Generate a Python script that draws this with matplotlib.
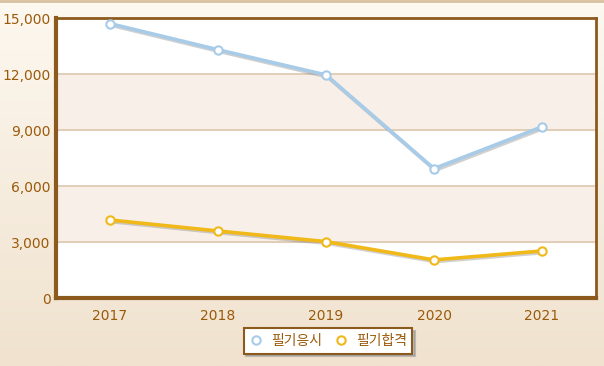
import numpy as np
import matplotlib.pyplot as plt
import matplotlib.patheffects as pe
from matplotlib.lines import Line2D

years = ['2017', '2018', '2019', '2020', '2021']
applicants = [14700, 13300, 11950, 6930, 9170]
passed = [4180, 3590, 3020, 2040, 2520]
labels = ['필기응시', '필기합격']
colors = ['#a8cbe8', '#f0b818']

plt.rcParams['font.family'] = ['DejaVu Sans', 'Noto Sans CJK KR']
txt = '#9a5a0a'

fig = plt.figure(figsize=(6.04, 3.66), dpi=100)

# gradient background
bg = fig.add_axes([0, 0, 1, 1], zorder=-10)
grad = np.linspace(0, 1, 256).reshape(-1, 1)
top = np.array([253, 248, 240]) / 255
bot = np.array([240, 226, 206]) / 255
img = top + (bot - top) * grad[:, :, None]
bg.imshow(img, aspect='auto', extent=[0, 1, 0, 1])
bg.axhline(0.997, color='#d8c0a0', lw=2)
bg.axis('off')

ax = fig.add_axes([56/604, 68/366, 540/604, 280/366])
ax.set_facecolor('white')
ticks = [0, 3000, 6000, 9000, 12000, 15000]
for i in range(len(ticks) - 1):
    if i % 2 == 1:
        ax.axhspan(ticks[i], ticks[i+1], color='#f8f0e8', zorder=0)
for t in ticks[1:-1]:
    ax.axhline(t, color='#dcc8b0', lw=1.2, zorder=1)

x = np.arange(len(years))
shadow = [pe.SimpleLineShadow(offset=(0.8, -1.2), shadow_color='#666666', alpha=0.3), pe.Normal()]
for vals, c, lab in zip([applicants, passed], colors, labels):
    ax.plot(x, vals, color=c, lw=2.6, zorder=3, path_effects=shadow, label=lab)
    ax.plot(x, vals, ls='none', marker='o', ms=6, mfc='white', mec=c, mew=1.5, zorder=4)

ax.set_xlim(-0.5, 4.5)
ax.set_ylim(0, 15000)
ax.set_yticks(ticks)
ax.set_yticklabels([f'{t:,}' for t in ticks])
ax.set_xticks(x)
ax.set_xticklabels(years)
ax.tick_params(length=0, colors=txt, labelsize=10, pad=4)
ax.tick_params(axis='x', pad=8)
for s in ax.spines.values():
    s.set_color('#8c5a1c')
    s.set_linewidth(2)
ax.spines['left'].set_linewidth(3)
ax.spines['bottom'].set_linewidth(3)

handles = [Line2D([], [], ls='none', marker='o', ms=6, mfc='white', mec=c, mew=1.5) for c in colors]
leg = fig.legend(handles=handles, labels=labels, loc='center',
                 bbox_to_anchor=(328/604, 1 - 341/366), ncol=2, frameon=True,
                 fancybox=False, shadow={'color': '#999999', 'alpha': 0.6}, handlelength=1.0,
                 handletextpad=0.6, columnspacing=0.8, borderpad=0.4, fontsize=10)
leg.get_frame().set_edgecolor('#8c5a1c')
leg.get_frame().set_linewidth(1.5)
for t in leg.get_texts():
    t.set_color(txt)
    t.set_family(['Noto Sans CJK KR', 'DejaVu Sans'])

fig.savefig('out.png', dpi=100)
